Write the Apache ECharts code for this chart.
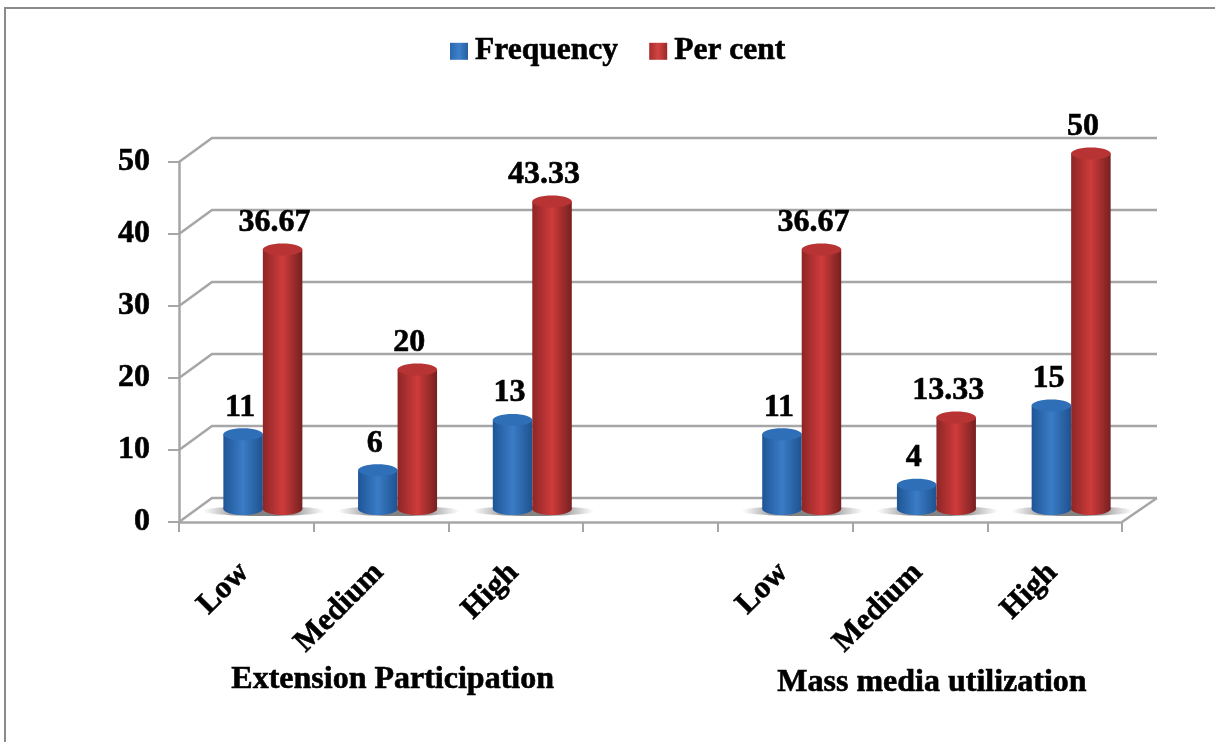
<!DOCTYPE html>
<html><head><meta charset="utf-8">
<style>html,body{margin:0;padding:0;background:#fff}#c{width:1215px;height:742px}</style>
<script src="https://cdn.jsdelivr.net/npm/echarts@6/dist/echarts.min.js"></script>
</head><body><div id="c"></div>
<script>
const categories = ['Low','Medium','High','','Low','Medium','High'];
const frequency = [11,6,13,null,11,4,15];
const perCent = [36.67,20,43.33,null,36.67,13.33,50];
const yTicks = [0,10,20,30,40,50];
const groupTitles = ['Extension Participation','Mass media utilization'];

const FONT = '"Liberation Serif","Times New Roman",serif';
const GRID = '#a6a6a6';
const DX = 33, DY = -24, BAR_W = 39.5, RY = 6;
const HEAVY = {textBorderColor:'#000',textBorderWidth:0.6};
const chart = echarts.init(document.getElementById('c'));
const grad = (a,b,c)=>({type:'linear',x:0,y:0,x2:1,y2:0,colorStops:[{offset:0,color:a},{offset:.5,color:b},{offset:1,color:c}]});
const pts = (arr)=>arr.map((v,i)=>[i,v]).filter(d=>d[1]!=null);

function barSeries(name, values, side, body, top, legendColor, labelShift){
  return {
    name, type:'custom', coordinateSystem:'cartesian2d', data:pts(values), z:5,
    itemStyle:{color:legendColor}, clip:false,
    renderItem(params, api){
      const c0 = api.coord([api.value(0),0]);
      const c1 = api.coord([api.value(0),api.value(1)]);
      const cx = c0[0] + DX/2 + side*BAR_W/2;
      const yb = c0[1] + DY/2 - 1, yt = c1[1] + DY/2 + 3.5;
      return {type:'group',children:[
        {type:'rect',shape:{x:cx-BAR_W/2,y:yt,width:BAR_W,height:yb-yt},style:{fill:body}},
        {type:'ellipse',shape:{cx:cx,cy:yb,rx:BAR_W/2,ry:RY},style:{fill:body}},
        {type:'ellipse',shape:{cx:cx,cy:yt,rx:BAR_W/2,ry:RY},style:{fill:top}},
        {type:'text',x:cx+labelShift,y:yt-27,style:{text:String(api.value(1)),fill:'#000',
          stroke:'#000',lineWidth:0.6,
          font:'bold 32px '+FONT,textAlign:'center',textVerticalAlign:'middle'}}
      ]};
    }
  };
}

chart.setOption({
  animation:false,
  backgroundColor:'#fff',
  legend:{
    left:445, top:30, itemWidth:18, itemHeight:17, itemGap:31, icon:'rect',
    data:['Frequency','Per cent'],
    textStyle:Object.assign({fontFamily:FONT,fontWeight:'bold',fontSize:31.5,color:'#000',padding:[0,0,0,2]},HEAVY)
  },
  grid:{left:179,right:93,top:162,bottom:220},
  xAxis:{
    type:'category',data:categories,
    axisLine:{lineStyle:{color:GRID,width:2.5}},
    axisTick:{show:true,length:10,lineStyle:{color:GRID,width:2},alignWithLabel:false},
    axisLabel:Object.assign({interval:0,rotate:45,margin:44,padding:[0,3,0,0],color:'#000',fontFamily:FONT,fontWeight:'bold',fontSize:31},HEAVY),
    splitLine:{show:false}
  },
  yAxis:{
    type:'value',min:0,max:50,interval:10,
    axisLine:{show:true,lineStyle:{color:GRID,width:2.5}},
    axisTick:{show:true,length:11,lineStyle:{color:GRID,width:2}},
    axisLabel:Object.assign({margin:29,color:'#000',fontFamily:FONT,fontWeight:'bold',fontSize:32},HEAVY),
    splitLine:{show:false}
  },
  graphic:[
    {type:'rect',z:-10,silent:true,shape:{x:5,y:8,width:1400,height:900},style:{fill:'none',stroke:'#8a8a8a',lineWidth:2}},
    {type:'text',left:231,top:663,silent:true,style:{text:groupTitles[0],fill:'#000',stroke:'#000',lineWidth:0.6,font:'bold 32px '+FONT}},
    {type:'text',left:777,top:666,silent:true,style:{text:groupTitles[1],fill:'#000',stroke:'#000',lineWidth:0.6,font:'bold 32px '+FONT}}
  ],
  series:[
    {
      name:'wall',type:'custom',coordinateSystem:'cartesian2d',z:1,silent:true,clip:false,
      data:yTicks.map(v=>[0,v]),
      renderItem(params,api){
        const cs = params.coordSys;
        const y = api.coord([0,api.value(1)])[1];
        const x0 = cs.x, x1 = cs.x+cs.width;
        const line = {stroke:GRID,lineWidth:2.5,fill:'none'};
        const ch = [{type:'polyline',shape:{points:[[x0,y],[x0+DX,y+DY],[x1+DX+2,y+DY]]},style:line}];
        if(api.value(1)===0) ch.push({type:'line',shape:{x1:x1,y1:y,x2:x1+DX+2,y2:y+DY},style:line});
        return {type:'group',children:ch};
      }
    },
    {
      name:'floor',type:'custom',coordinateSystem:'cartesian2d',z:2,silent:true,clip:false,
      data:pts(frequency),
      renderItem(params,api){
        const c0 = api.coord([api.value(0),0]);
        return {type:'ellipse',shape:{cx:c0[0]+DX/2+1,cy:c0[1]+DY/2+1,rx:61,ry:5},
          style:{fill:{type:'linear',x:0,y:0,x2:1,y2:0,colorStops:[
            {offset:0,color:'rgba(130,130,130,0)'},{offset:.3,color:'rgba(100,100,100,.8)'},
            {offset:.7,color:'rgba(100,100,100,.8)'},{offset:1,color:'rgba(130,130,130,0)'}]}}};
      }
    },
    barSeries('Frequency',frequency,-1,grad('#1f5596','#3a7cc6','#1e5290'),'#2f6fb8',
      grad('#2a68ae','#3f80cc','#255f9f'),-3),
    barSeries('Per cent',perCent,1,grad('#8e2626','#cf3b3b','#762020'),'#b83333',
      grad('#a82c2c','#d24444','#9a2828'),-8)
  ]
});
</script></body></html>
